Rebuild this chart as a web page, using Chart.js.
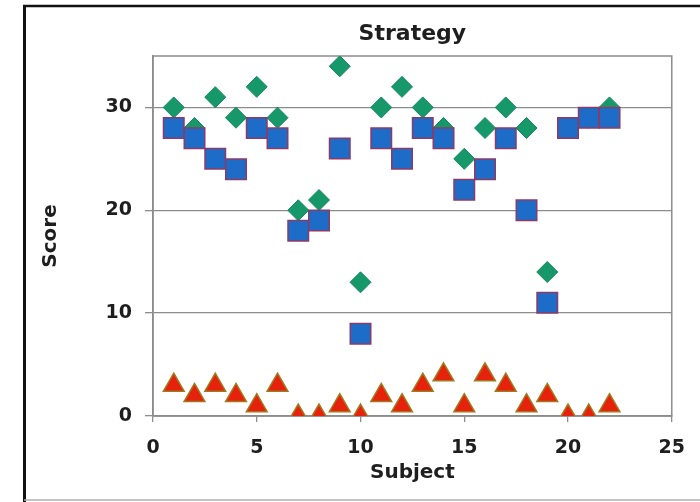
<!DOCTYPE html>
<html>
<head>
<meta charset="utf-8">
<script src="https://cdn.jsdelivr.net/npm/chart.js@4/dist/chart.umd.min.js"></script>
<style>
  html, body { margin: 0; padding: 0; background: #fff; }
  #wrap { width: 700px; height: 502px; position: relative; }
  canvas { display: block; }
</style>
</head>
<body>
<div id="wrap"><canvas id="chart" width="700" height="502"></canvas></div>
<script>
// Subject numbers 1..22
const subjects = [1, 2, 3, 4, 5, 6, 7, 8, 9, 10, 11, 12, 13, 14, 15, 16, 17, 18, 19, 20, 21, 22];
// Green diamonds
const diamondScores = [30, 28, 31, 29, 32, 29, 20, 21, 34, 13, 30, 32, 30, 28, 25, 28, 30, 28, 14, 28, 29, 30];
// Blue squares
const squareScores = [28, 27, 25, 24, 28, 27, 18, 19, 26, 8, 27, 25, 28, 27, 22, 24, 27, 20, 11, 28, 29, 29];
// Red triangles
const triangleScores = [3, 2, 3, 2, 1, 3, 0, 0, 1, 0, 2, 1, 3, 4, 1, 4, 3, 1, 2, 0, 0, 1];

const yTickValues = [0, 10, 20, 30];

const toPoints = vals => subjects.map((s, i) => ({ x: s, y: vals[i] }));

const GRID = '#8c8c8c';
const FONT = "'DejaVu Sans', 'Open Sans', sans-serif";
const TEXT = '#1e1e1e';

// White page, outer frame and plot-area box
const framePlugin = {
  id: 'frame',
  beforeDraw(chart) {
    const c = chart.ctx;
    c.save();
    c.fillStyle = '#fff';
    c.fillRect(0, 0, chart.width, chart.height);
    c.strokeStyle = '#111';
    c.lineWidth = 2.5;
    c.beginPath();
    c.moveTo(23, 6); c.lineTo(700, 6);
    c.stroke();
    c.lineWidth = 3;
    c.beginPath();
    c.moveTo(24.5, 5); c.lineTo(24.5, 502);
    c.stroke();
    c.strokeStyle = '#b0b0b0';
    c.lineWidth = 1.5;
    c.beginPath();
    c.moveTo(24, 500); c.lineTo(700, 500);
    c.stroke();
    c.restore();
  },
  beforeDatasetsDraw(chart) {
    const a = chart.chartArea;
    const c = chart.ctx;
    c.save();
    c.strokeStyle = GRID;
    c.lineWidth = 1.5;
    c.strokeRect(a.left, a.top, a.right - a.left, a.bottom - a.top);
    c.restore();
  }
};

new Chart(document.getElementById('chart'), {
  type: 'scatter',
  data: {
    datasets: [
      {
        label: 'Squares',
        data: toPoints(squareScores),
        order: 0,
        pointStyle: 'rect',
        pointRadius: 14.5,
        pointHoverRadius: 14.5,
        backgroundColor: '#1d6cc8',
        borderColor: '#8e3a66',
        borderWidth: 1.5
      },
      {
        label: 'Diamonds',
        data: toPoints(diamondScores),
        order: 1,
        pointStyle: 'rectRot',
        pointRadius: 10.5,
        pointHoverRadius: 10.5,
        backgroundColor: '#16986a',
        borderColor: '#128a5e',
        borderWidth: 1
      },
      {
        label: 'Triangles',
        data: toPoints(triangleScores),
        order: 2,
        pointStyle: 'triangle',
        pointRadius: 12,
        pointHoverRadius: 12,
        backgroundColor: '#e6220c',
        borderColor: '#a07a1e',
        borderWidth: 1.5
      }
    ]
  },
  options: {
    responsive: false,
    animation: false,
    layout: { padding: { left: 38, right: 28, top: 18, bottom: 16 } },
    plugins: {
      legend: { display: false },
      tooltip: { enabled: false },
      title: {
        display: true,
        text: 'Strategy',
        fullSize: false,
        color: TEXT,
        font: { family: FONT, size: 22, weight: 'bold' },
        padding: { top: 3, bottom: 8.6 }
      }
    },
    scales: {
      x: {
        type: 'linear',
        min: 0,
        max: 25,
        ticks: {
          stepSize: 5,
          color: TEXT,
          font: { family: FONT, size: 19, weight: 'bold' },
          padding: 15
        },
        grid: {
          drawOnChartArea: false,
          drawTicks: true,
          tickLength: 6,
          color: GRID,
          lineWidth: 1.3
        },
        border: { color: GRID, width: 1.5 },
        title: {
          display: true,
          text: 'Subject',
          color: TEXT,
          font: { family: FONT, size: 20, weight: 'bold' },
          padding: { top: 0, bottom: 1 }
        },
        afterFit(scale) { scale.height = 70; }
      },
      y: {
        type: 'linear',
        min: 0,
        max: 35,
        afterBuildTicks(scale) {
          scale.ticks = yTickValues.map(v => ({ value: v }));
        },
        ticks: {
          color: TEXT,
          font: { family: FONT, size: 19, weight: 'bold' },
          padding: 13
        },
        grid: {
          drawOnChartArea: true,
          drawTicks: true,
          tickLength: 8,
          color: GRID,
          lineWidth: 1.3
        },
        border: { color: GRID, width: 1.5 },
        title: {
          display: true,
          text: 'Score',
          color: TEXT,
          font: { family: FONT, size: 20, weight: 'bold' },
          padding: { top: 1, bottom: 0 }
        },
        afterFit(scale) { scale.width = 115; }
      }
    }
  },
  plugins: [framePlugin]
});
</script>
</body>
</html>
